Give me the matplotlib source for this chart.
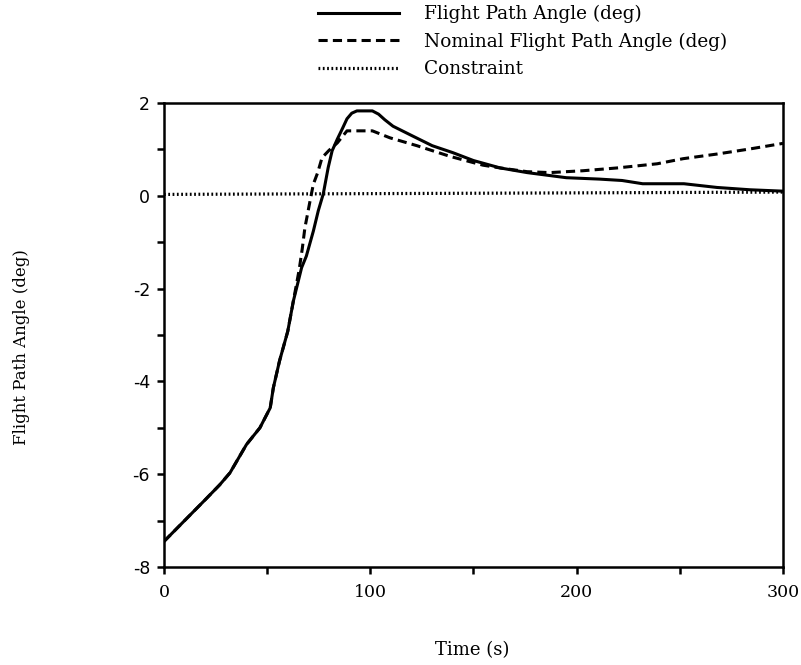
import matplotlib

matplotlib.use("Agg")
import matplotlib.pyplot as plt
from matplotlib.ticker import MultipleLocator

plt.rcParams["axes.unicode_minus"] = False

# solid: actual flight path angle (deg) vs time (s)
t_actual = [0, 10, 20, 27, 32, 40, 46.5, 51.5, 53, 56, 60, 62.7, 66.7, 69, 72.4,
            74.8, 77.2, 79.6, 81.5, 84, 86.5, 88.7, 91, 93.5, 101, 104, 107, 111,
            120, 130, 140, 150, 163, 176, 195, 211, 222, 232, 252, 268, 284, 300]
gamma_actual = [-7.45, -7.0, -6.55, -6.23, -5.97, -5.36, -5.0, -4.57, -4.14, -3.56,
                -2.92, -2.27, -1.55, -1.3, -0.76, -0.32, 0.04, 0.61, 0.97, 1.22,
                1.45, 1.66, 1.78, 1.83, 1.83, 1.76, 1.64, 1.5, 1.3, 1.08, 0.93,
                0.76, 0.6, 0.5, 0.39, 0.36, 0.33, 0.26, 0.26, 0.18, 0.13, 0.1]

# dashed: nominal flight path angle
t_nominal = [0, 10, 20, 27, 32, 40, 46.5, 51.5, 53, 56, 60, 62.7, 65.5, 67, 68.3,
             70.8, 72.4, 74.5, 76.6, 80, 84, 88.7, 101, 109.5, 122.6, 138.6, 154.6,
             163, 176, 187, 203, 219.5, 239, 251.6, 268, 284, 300]
gamma_nominal = [-7.45, -7.0, -6.55, -6.23, -5.97, -5.36, -5.0, -4.57, -4.14, -3.56,
                 -2.92, -2.27, -1.6, -1.15, -0.69, -0.11, 0.25, 0.5, 0.82, 0.98,
                 1.14, 1.4, 1.4, 1.25, 1.08, 0.85, 0.66, 0.6, 0.52, 0.5, 0.54, 0.6,
                 0.69, 0.8, 0.9, 1.01, 1.13]

# dotted: constraint
t_constraint = [0, 300]
gamma_constraint = [0.03, 0.08]

labels = ["Flight Path Angle (deg)", "Nominal Flight Path Angle (deg)", "Constraint"]

SERIF = "DejaVu Serif"

fig = plt.figure(figsize=(8.01, 6.65), dpi=100)
ax = fig.add_axes([0.2047, 0.1474, 0.7728, 0.6977])

h1, = ax.plot(t_actual, gamma_actual, color="black", lw=2.2)
h2, = ax.plot(t_nominal, gamma_nominal, color="black", lw=2.2, dashes=(3.0, 1.7))
h3, = ax.plot(t_constraint, gamma_constraint, color="black", lw=2.3, dashes=(0.55, 0.8))

ax.set_xlim(0, 300)
ax.set_ylim(-8, 2)
ax.xaxis.set_major_locator(MultipleLocator(100))
ax.xaxis.set_minor_locator(MultipleLocator(50))
ax.yaxis.set_major_locator(MultipleLocator(2))
ax.yaxis.set_minor_locator(MultipleLocator(1))
ax.tick_params(which="both", direction="out", width=1.8, length=5, top=False, right=False)
ax.tick_params(axis="y", labelsize=12.5, pad=5)
ax.tick_params(axis="x", labelsize=12.5, pad=7)
for lab in ax.get_xticklabels():
    lab.set_family(SERIF)
for s in ax.spines.values():
    s.set_linewidth(1.8)

fig.text(22 / 801, 1 - 347 / 665, "Flight Path Angle (deg)", rotation=90,
         ha="center", va="center", fontsize=12, family=SERIF)
fig.text(472 / 801, 1 - 650 / 665, "Time (s)", ha="center", va="center",
         fontsize=13, family=SERIF)

fig.legend([h1, h2, h3], labels, loc="upper left", bbox_to_anchor=(318 / 801, 1 - 5 / 665),
           frameon=False, borderpad=0, borderaxespad=0, handlelength=4.4,
           handletextpad=1.35, labelspacing=0.5, prop={"family": SERIF, "size": 13.3})

fig.savefig("out.png", dpi=100)
